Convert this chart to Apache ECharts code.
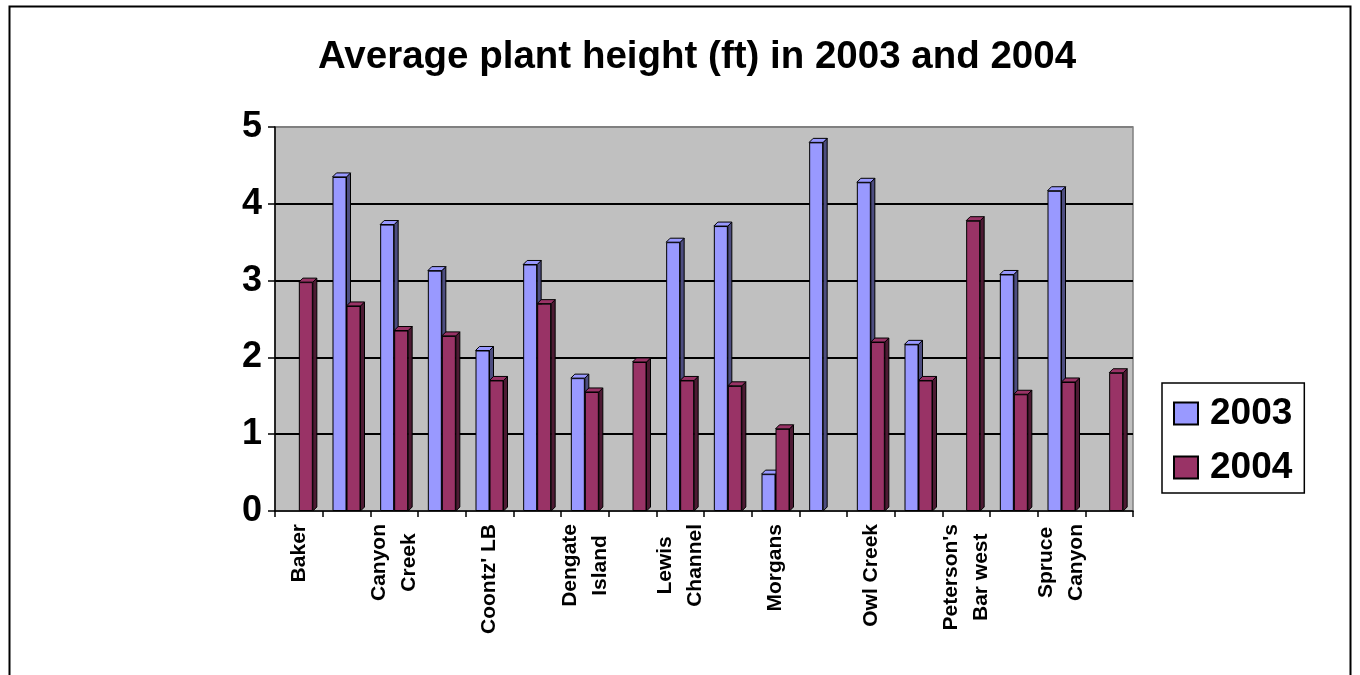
<!DOCTYPE html>
<html>
<head>
<meta charset="utf-8">
<script src="https://cdn.jsdelivr.net/npm/echarts@6/dist/echarts.min.js"></script>
<style>
  html, body { margin: 0; padding: 0; background: #fff; }
  #main { width: 1360px; height: 675px; }
</style>
</head>
<body>
<div id="main"></div>
<script>
var categories = ['Baker', '', 'Canyon\nCreek', '', "Coontz' LB", '', 'Dengate\nIsland', '',
    'Lewis\nChannel', '', 'Morgans', '', 'Owl Creek', '', "Peterson's\nBar west", '',
    'Spruce\nCanyon', ''];
var years = ['2003', '2004'];
var h2003 = [null, 4.35, 3.73, 3.13, 2.09, 3.21, 1.73, null, 3.50, 3.71, 0.48, 4.80, 4.28, 2.17, null, 3.08, 4.17, null];
var h2004 = [2.98, 2.67, 2.35, 2.28, 1.70, 2.70, 1.55, 1.94, 1.70, 1.63, 1.07, null, 2.20, 1.70, 3.78, 1.52, 1.68, 1.80];
var yTicks = [0, 1, 2, 3, 4, 5];

var FONT = '"Liberation Sans", Arial, sans-serif';
var BAR_W = 14;
var DEPTH = 4;

var myChart = echarts.init(document.getElementById('main'));

// side and top faces so the bars look like the old 3d excel bars
function depthSeries(values, idx, sideColor, topColor, z) {
    return {
        type: 'custom',
        z: z,
        silent: true,
        encode: {x: 0, y: 1},
        data: values.map(function (v, i) { return [i, v]; }),
        renderItem: function (params, api) {
            var v = api.value(1);
            if (v == null || isNaN(v)) return;
            var top = api.coord([api.value(0), v]);
            var base = api.coord([api.value(0), 0]);
            var x0 = top[0] + (idx === 0 ? -BAR_W : 0);
            var x1 = x0 + BAR_W;
            var y0 = top[1], y1 = base[1];
            var st = {stroke: '#000', lineWidth: 1};
            return {
                type: 'group',
                children: [{
                    type: 'polygon',
                    shape: {points: [[x1, y0], [x1 + DEPTH, y0 - DEPTH], [x1 + DEPTH, y1 - DEPTH], [x1, y1]]},
                    style: Object.assign({fill: sideColor}, st)
                }, {
                    type: 'polygon',
                    shape: {points: [[x0, y0], [x0 + DEPTH, y0 - DEPTH], [x1 + DEPTH, y0 - DEPTH], [x1, y0]]},
                    style: Object.assign({fill: topColor}, st)
                }]
            };
        }
    };
}

var option = {
    animation: false,
    backgroundColor: '#fff',
    title: {
        text: 'Average plant height (ft) in 2003 and 2004',
        left: 318,
        top: 38,
        padding: 0,
        textStyle: {fontFamily: FONT, fontSize: 38.5, fontWeight: 'bold', color: '#000'}
    },
    legend: {
        data: years,
        orient: 'vertical',
        icon: 'rect',
        left: 1162,
        top: 383,
        padding: [12, 12, 7, 11],
        borderColor: '#000',
        borderWidth: 1.5,
        itemWidth: 24,
        itemHeight: 22,
        itemGap: 17,
        textStyle: {fontFamily: FONT, fontSize: 37, fontWeight: 'bold', color: '#000', padding: [0, 0, 0, 7]}
    },
    grid: {
        left: 275,
        right: 227,
        top: 127,
        bottom: 164,
        show: true,
        backgroundColor: '#c0c0c0',
        borderColor: '#808080',
        borderWidth: 1.5
    },
    xAxis: {
        type: 'category',
        data: categories,
        axisLine: {lineStyle: {color: '#000', width: 1.5}},
        axisTick: {show: true, interval: 0, length: 6, lineStyle: {color: '#000', width: 1.5}},
        axisLabel: {
            interval: 0,
            rotate: 90,
            margin: 13,
            color: '#000',
            fontFamily: FONT,
            fontSize: 21,
            fontWeight: 'bold',
            formatter: function (v) {
                if (!v) return '';
                return v.split('\n').map(function (s) { return '{c|' + s + '}'; }).join('\n');
            },
            rich: {
                c: {align: 'center', fontFamily: FONT, fontSize: 21, fontWeight: 'bold', color: '#000', lineHeight: 30}
            }
        }
    },
    yAxis: {
        type: 'value',
        min: yTicks[0],
        max: yTicks[yTicks.length - 1],
        interval: 1,
        axisLine: {show: true, lineStyle: {color: '#000', width: 1.5}},
        axisTick: {show: true, length: 7, lineStyle: {color: '#000', width: 1.5}},
        axisLabel: {margin: 13, color: '#000', fontFamily: FONT, fontSize: 36, fontWeight: 'bold'},
        splitLine: {lineStyle: {color: ['#808080', '#000', '#000', '#000', '#000', '#808080'], width: 1.8}}
    },
    series: [{
        name: years[0],
        type: 'bar',
        z: 2,
        barWidth: BAR_W,
        barGap: '0%',
        itemStyle: {color: '#9999ff', borderColor: '#000', borderWidth: 1},
        data: h2003
    }, depthSeries(h2003, 0, '#4d4d80', '#9999ff', 3), {
        name: years[1],
        type: 'bar',
        z: 4,
        barWidth: BAR_W,
        barGap: '0%',
        itemStyle: {color: '#993366', borderColor: '#000', borderWidth: 1},
        data: h2004
    }, depthSeries(h2004, 1, '#4d1a33', '#993366', 5)],
    graphic: [{
        type: 'rect',
        shape: {x: 9.5, y: 6.5, width: 1341, height: 720},
        style: {fill: null, stroke: '#000', lineWidth: 2},
        silent: true
    }]
};

myChart.setOption(option);
</script>
</body>
</html>
